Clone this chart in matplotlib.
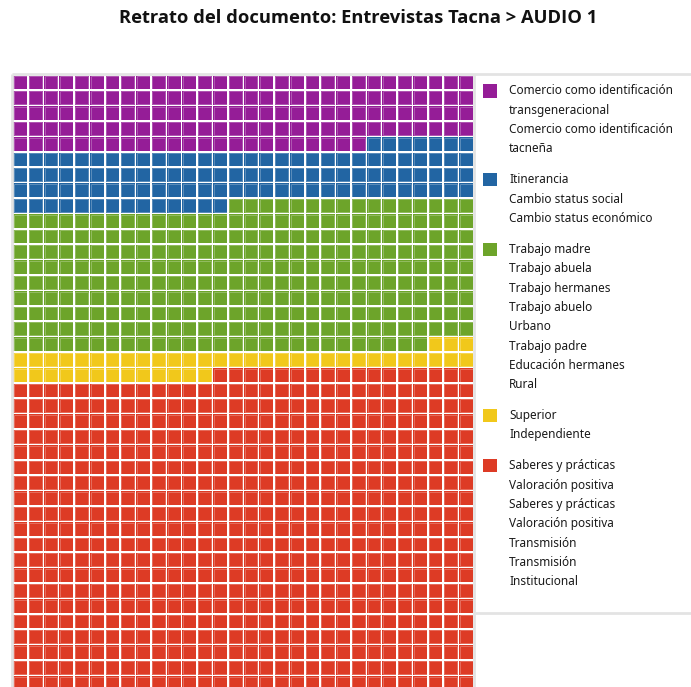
import matplotlib
matplotlib.use("Agg")
import matplotlib.pyplot as plt
from matplotlib.patches import Rectangle

# ---- data ----
group_colors = ["#951d97", "#2265a3", "#6da42a", "#f1c81b", "#dd3b25"]
group_counts = [143, 111, 283, 46, 617]
group_labels = [
    ["Comercio como identificación", "transgeneracional", "Comercio como identificación", "tacneña"],
    ["Itinerancia", "Cambio status social", "Cambio status económico"],
    ["Trabajo madre", "Trabajo abuela", "Trabajo hermanes", "Trabajo abuelo", "Urbano",
     "Trabajo padre", "Educación hermanes", "Rural"],
    ["Superior", "Independiente"],
    ["Saberes y prácticas", "Valoración positiva", "Saberes y prácticas", "Valoración positiva",
     "Transmisión", "Transmisión", "Institucional"],
]
title = "Retrato del documento: Entrevistas Tacna > AUDIO 1"
n_cols = 30

W, H = 691, 687
fig = plt.figure(figsize=(W / 100, H / 100), dpi=100)
ax = fig.add_axes([0, 0, 1, 1])
ax.set_xlim(0, W)
ax.set_ylim(H, 0)
ax.axis("off")

plt.rcParams["font.family"] = ["Noto Sans", "DejaVu Sans"]

# title
ax.text(358, 18, title, ha="center", va="center", fontsize=13.2, fontweight="bold",
        color="#111111", family=["Open Sans", "DejaVu Sans"])

# frames
frame_col = "#e3e3e3"
ax.plot([12.5, 12.5], [74, H + 5], color=frame_col, lw=2, solid_capstyle="butt")
ax.plot([12.5, W + 5], [74, 74], color=frame_col, lw=2, solid_capstyle="butt")
ax.plot([474.5, 474.5], [74, H + 5], color=frame_col, lw=2, solid_capstyle="butt")
ax.plot([475, W + 5], [613, 613], color=frame_col, lw=2, solid_capstyle="butt")

# waffle cells
x0, y0 = 13.3, 75.5
pitch_x, pitch_y = 15.38, 15.4
size = 13.9
idx = 0
for color, cnt in zip(group_colors, group_counts):
    for _ in range(cnt):
        r, c = divmod(idx, n_cols)
        ax.add_patch(Rectangle((x0 + c * pitch_x, y0 + r * pitch_y), size, size,
                               facecolor=color, edgecolor="none"))
        ax.add_patch(Rectangle((x0 + c * pitch_x + 0.5, y0 + r * pitch_y + 0.5), size - 1.0, size - 1.0,
                               facecolor="none", edgecolor=(1, 1, 1, 0.3), lw=0.6))
        idx += 1

# legend
y = 91
line_h = 19.3
group_gap = 11.7
for color, labels in zip(group_colors, group_labels):
    ax.add_patch(Rectangle((483.5, y - 7), 13.5, 13.5, facecolor=color, edgecolor="none"))
    for lab in labels:
        ax.text(509, y, lab, ha="left", va="center", fontsize=8.5, color="#1a1a1a")
        y += line_h
    y += group_gap

fig.savefig("out.png", dpi=100)
